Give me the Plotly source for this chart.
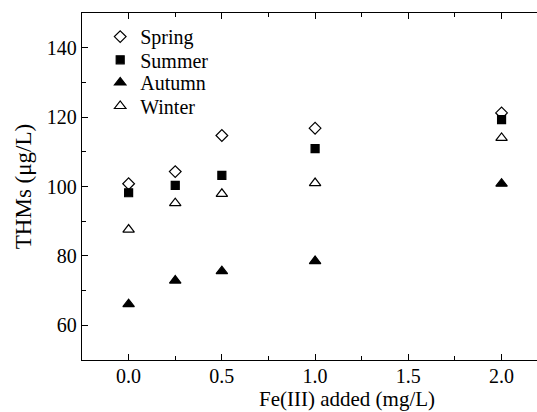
import plotly.graph_objects as go

fe_added = [0.0, 0.25, 0.5, 1.0, 2.0]
spring = [100.8, 104.3, 114.7, 116.8, 121.2]
summer = [98.2, 100.3, 103.2, 110.9, 119.3]
autumn = [66.1, 72.9, 75.6, 78.5, 100.8]
winter = [87.6, 95.2, 97.9, 101.0, 114.0]

series = [
    ("Spring", spring, "diamond-open", 9),
    ("Summer", summer, "square", 8),
    ("Autumn", autumn, "triangle-up", 10),
    ("Winter", winter, "triangle-up-open", 10),
]
legend_names = ["legend", "legend2", "legend3", "legend4"]
legend_rows_y = [0.932, 0.865, 0.800, 0.732]

FONT = "Liberation Serif, Times New Roman, serif"

fig = go.Figure()
for (name, vals, sym, size), lg in zip(series, legend_names):
    fig.add_trace(go.Scatter(
        x=fe_added, y=vals, mode="markers", name=name, legend=lg,
        marker=dict(symbol=sym, size=size, color="black",
                    line=dict(color="black", width=1.2)),
        cliponaxis=False,
    ))

axis_common = dict(
    showline=True, linecolor="black", linewidth=1.3,
    ticks="inside", ticklen=6, tickwidth=1.2, tickcolor="black",
    showgrid=False, zeroline=False,
    tickfont=dict(family=FONT, size=20, color="black"),
)

legend_layout = {}
for lg, ly in zip(legend_names, legend_rows_y):
    legend_layout[lg] = dict(x=0.04, y=ly, xanchor="left", yanchor="middle",
                             bgcolor="rgba(0,0,0,0)",
                             font=dict(family=FONT, size=20, color="black"),
                             itemwidth=30)

fig.update_layout(
    width=537, height=412,
    margin=dict(l=82, r=0, t=13, b=52),
    paper_bgcolor="white", plot_bgcolor="white",
    font=dict(family=FONT, size=20, color="black"),
    showlegend=True,
    xaxis=dict(range=[-0.25, 2.19], tickvals=[0, 0.5, 1.0, 1.5, 2.0],
               ticktext=["0.0", "0.5", "1.0", "1.5", "2.0"],
               mirror="allticks", ticklabelstandoff=-2,
               minor=dict(dtick=0.25, ticks="inside", ticklen=4, tickwidth=1.2, tickcolor="black"),
               **axis_common),
    yaxis=dict(range=[50, 150], tickvals=[60, 80, 100, 120, 140],
               title=dict(text="THMs (μg/L)", font=dict(family=FONT, size=23), standoff=8),
               minor=dict(dtick=10, ticks="inside", ticklen=4, tickwidth=1.2, tickcolor="black"),
               **axis_common),
    **legend_layout,
)

fig.add_annotation(
    text="Fe(III) added (mg/L)", xref="x", yref="paper", x=1.17, y=0,
    yshift=-25, yanchor="top", showarrow=False,
    font=dict(family=FONT, size=21, color="black"),
)

fig.write_html("out.html")
